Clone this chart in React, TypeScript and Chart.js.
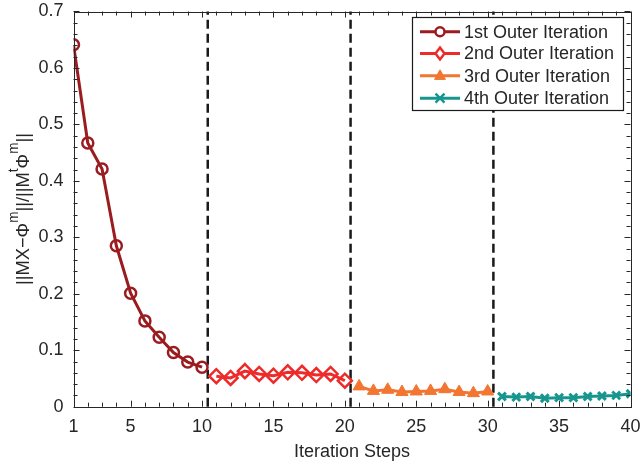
import React, { useEffect, useRef } from "react";
import { Chart, registerables } from "chart.js";

Chart.register(...registerables);

// ---- Data ----
const stepsOuter1 = [1, 2, 3, 4, 5, 6, 7, 8, 9, 10];
const residualOuter1 = [0.641, 0.467, 0.421, 0.285, 0.201, 0.152, 0.123, 0.096, 0.079, 0.07];
const stepsOuter2 = [11, 12, 13, 14, 15, 16, 17, 18, 19, 20];
const residualOuter2 = [0.054, 0.051, 0.063, 0.058, 0.055, 0.061, 0.06, 0.056, 0.058, 0.046];
const stepsOuter3 = [21, 22, 23, 24, 25, 26, 27, 28, 29, 30];
const residualOuter3 = [0.036, 0.028, 0.03, 0.026, 0.027, 0.028, 0.031, 0.026, 0.024, 0.027];
const stepsOuter4 = [31, 32, 33, 34, 35, 36, 37, 38, 39, 40];
const residualOuter4 = [0.018, 0.017, 0.018, 0.015, 0.016, 0.016, 0.018, 0.019, 0.02, 0.023];

const seriesLabels = [
  "1st Outer Iteration",
  "2nd Outer Iteration",
  "3rd Outer Iteration",
  "4th Outer Iteration",
];
const xTickValues = [1, 5, 10, 15, 20, 25, 30, 35, 40];
const yTickValues = [0, 0.1, 0.2, 0.3, 0.4, 0.5, 0.6, 0.7];
const xMinorStep = 1;
const yMinorStep = 0.02;
const dividerSteps = [10.4, 20.4, 30.4];
const xAxisTitle = "Iteration Steps";

// ---- Styles ----
const FONT = "'Liberation Sans', Arial, Helvetica, sans-serif";
const TEXT = "#262626";
const colors = ["#9b1c20", "#ee2b2b", "#f27631", "#17968f"];
const pointStyles = ["circle", "rectRot", "triangle", "crossRot"];
const pointRadii = [5.5, 7, 7, 5.5];
const pointBorders = [2.5, 2.5, 1, 3];
const filled = [false, false, true, false];

function toXY(xs: number[], ys: number[]) {
  return xs.map((x, i) => ({ x, y: ys[i] }));
}

function drawMarker(ctx: CanvasRenderingContext2D, style: string, x: number, y: number, r: number, color: string, fill: boolean, lw: number) {
  ctx.save();
  ctx.strokeStyle = color;
  ctx.fillStyle = fill ? color : "#ffffff";
  ctx.lineWidth = lw;
  ctx.setLineDash([]);
  ctx.beginPath();
  if (style === "circle") {
    ctx.arc(x, y, r, 0, Math.PI * 2);
    ctx.fill();
    ctx.stroke();
  } else if (style === "rectRot") {
    ctx.moveTo(x, y - r);
    ctx.lineTo(x + r * 0.75, y);
    ctx.lineTo(x, y + r);
    ctx.lineTo(x - r * 0.75, y);
    ctx.closePath();
    ctx.fill();
    ctx.stroke();
  } else if (style === "triangle") {
    ctx.moveTo(x, y - r);
    ctx.lineTo(x + r * 0.9, y + r * 0.6);
    ctx.lineTo(x - r * 0.9, y + r * 0.6);
    ctx.closePath();
    ctx.fill();
    ctx.stroke();
  } else {
    ctx.moveTo(x - r, y - r);
    ctx.lineTo(x + r, y + r);
    ctx.moveTo(x + r, y - r);
    ctx.lineTo(x - r, y + r);
    ctx.stroke();
  }
  ctx.restore();
}

const decorPlugin = {
  id: "decor",
  beforeDatasetsDraw(chart: any) {
    const { ctx, chartArea, scales } = chart;
    ctx.save();
    ctx.strokeStyle = "#1a1a1a";
    ctx.lineWidth = 2.5;
    ctx.setLineDash([9, 5]);
    dividerSteps.forEach((v) => {
      const px = scales.x.getPixelForValue(v);
      ctx.beginPath();
      ctx.moveTo(px, chartArea.bottom);
      ctx.lineTo(px, chartArea.top);
      ctx.stroke();
    });
    ctx.restore();
  },
  afterDraw(chart: any) {
    const { ctx, chartArea: a, scales } = chart;
    const xs = scales.x;
    const ys = scales.y;
    ctx.save();
    // box
    ctx.strokeStyle = TEXT;
    ctx.lineWidth = 1;
    ctx.strokeRect(Math.round(a.left) + 0.5, Math.round(a.top) + 0.5, Math.round(a.right - a.left), Math.round(a.bottom - a.top));
    // ticks
    ctx.beginPath();
    const isMajorX = (v: number) => xTickValues.some((t) => Math.abs(t - v) < 1e-6);
    for (let v = xs.min; v <= xs.max + 1e-9; v += xMinorStep) {
      const px = Math.round(xs.getPixelForValue(v)) + 0.5;
      const len = isMajorX(v) ? 6 : 4;
      ctx.moveTo(px, a.bottom);
      ctx.lineTo(px, a.bottom - len);
      ctx.moveTo(px, a.top);
      ctx.lineTo(px, a.top + len);
    }
    const isMajorY = (v: number) => yTickValues.some((t) => Math.abs(t - v) < 1e-6);
    for (let i = 0; ys.min + i * yMinorStep <= ys.max + 1e-9; i++) {
      const v = ys.min + i * yMinorStep;
      const py = Math.round(ys.getPixelForValue(v)) + 0.5;
      const len = isMajorY(v) ? 6 : 4;
      ctx.moveTo(a.left, py);
      ctx.lineTo(a.left + len, py);
      ctx.moveTo(a.right, py);
      ctx.lineTo(a.right - len, py);
    }
    ctx.stroke();

    // y-axis title with superscripts
    const parts: [string, boolean][] = [
      ["||MX\u2212\u03A6", false],
      ["m", true],
      ["||/||M", false],
      ["t", true],
      ["\u03A6", false],
      ["m", true],
      ["||", false],
    ];
    const mainFont = `19px ${FONT}`;
    const supFont = `14px ${FONT}`;
    let total = 0;
    parts.forEach(([s, sup]) => {
      ctx.font = sup ? supFont : mainFont;
      total += ctx.measureText(s).width;
    });
    const targetLen = 152;
    ctx.translate(28.5, (a.top + a.bottom) / 2);
    ctx.rotate(-Math.PI / 2);
    ctx.scale(targetLen / total, 1);
    ctx.fillStyle = TEXT;
    ctx.textBaseline = "alphabetic";
    ctx.textAlign = "left";
    let cx = -total / 2;
    parts.forEach(([s, sup]) => {
      ctx.font = sup ? supFont : mainFont;
      ctx.fillText(s, cx, sup ? -11 : 0);
      cx += ctx.measureText(s).width;
    });
    ctx.setTransform(1, 0, 0, 1, 0, 0);

    // legend
    const lx = 412.5, ly = 17.5, lw = 211, lh = 93;
    ctx.fillStyle = "#ffffff";
    ctx.fillRect(lx, ly, lw, lh);
    ctx.strokeStyle = "#1a1a1a";
    ctx.lineWidth = 1.2;
    ctx.strokeRect(lx, ly, lw, lh);
    const rowY = [31.7, 53.5, 75.8, 98.2];
    chart.data.datasets.forEach((ds: any, i: number) => {
      const y = rowY[i];
      ctx.strokeStyle = ds.borderColor;
      ctx.lineWidth = 3;
      ctx.setLineDash([]);
      ctx.beginPath();
      ctx.moveTo(420, y);
      ctx.lineTo(460, y);
      ctx.stroke();
      const r = i === 0 ? 4.5 : i === 3 ? 4.5 : 6;
      drawMarker(ctx, pointStyles[i], 440, y, r, ds.borderColor, filled[i], i === 2 ? 1 : 2.5);
      ctx.fillStyle = TEXT;
      ctx.font = `18px ${FONT}`;
      ctx.textBaseline = "middle";
      ctx.textAlign = "left";
      ctx.fillText(ds.label, 464, y + 1);
    });
    ctx.restore();
  },
};

export default function App() {
  const canvasRef = useRef<HTMLCanvasElement | null>(null);

  useEffect(() => {
    document.body.style.margin = "0";
    const canvas = canvasRef.current;
    if (!canvas) return;
    const seriesX = [stepsOuter1, stepsOuter2, stepsOuter3, stepsOuter4];
    const seriesY = [residualOuter1, residualOuter2, residualOuter3, residualOuter4];
    const datasets = seriesLabels.map((label, i) => ({
      label,
      data: toXY(seriesX[i], seriesY[i]),
      borderColor: colors[i],
      backgroundColor: filled[i] ? colors[i] : "rgba(0,0,0,0)",
      pointBackgroundColor: filled[i] ? colors[i] : "rgba(0,0,0,0)",
      pointBorderColor: colors[i],
      borderWidth: 3,
      pointStyle: pointStyles[i],
      pointRadius: pointRadii[i],
      pointBorderWidth: pointBorders[i],
      pointHoverRadius: pointRadii[i],
      tension: 0,
      fill: false,
    }));

    const chart = new Chart(canvas, {
      type: "line",
      data: { datasets },
      plugins: [decorPlugin],
      options: {
        animation: false,
        responsive: false,
        maintainAspectRatio: false,
        layout: { padding: { top: 11.5, right: 9.5, left: 0, bottom: 0 } },
        plugins: {
          legend: { display: false },
          tooltip: { enabled: false },
        },
        scales: {
          x: {
            type: "linear",
            min: 1,
            max: 40,
            afterBuildTicks: (scale: any) => {
              scale.ticks = xTickValues.map((v) => ({ value: v }));
            },
            afterFit: (scale: any) => {
              scale.height = 61.3;
              scale.paddingLeft = 0;
              scale.paddingRight = 0;
            },
            grid: { display: false, drawTicks: false },
            border: { display: false },
            ticks: {
              autoSkip: false,
              maxRotation: 0,
              padding: 10,
              color: TEXT,
              font: { family: FONT, size: 18 },
              callback: (v: any) => String(v),
            },
            title: {
              display: true,
              text: xAxisTitle,
              color: TEXT,
              font: { family: FONT, size: 18 },
              padding: { top: 5, bottom: 5 },
            },
          },
          y: {
            type: "linear",
            min: 0,
            max: 0.7,
            afterBuildTicks: (scale: any) => {
              scale.ticks = yTickValues.map((v) => ({ value: v }));
            },
            afterFit: (scale: any) => {
              scale.width = 73.5;
              scale.paddingTop = 0;
              scale.paddingBottom = 0;
            },
            grid: { display: false, drawTicks: false },
            border: { display: false },
            ticks: {
              autoSkip: false,
              padding: 10,
              color: TEXT,
              font: { family: FONT, size: 18 },
              callback: (v: any) => (Math.abs(v) < 1e-9 ? "0" : Number(v).toFixed(1)),
            },
          },
        },
      } as any,
    });
    return () => chart.destroy();
  }, []);

  return (
    <div style={{ width: 640, height: 468 }}>
      <canvas ref={canvasRef} width={640} height={468} style={{ display: "block", width: 640, height: 468 }} />
    </div>
  );
}
